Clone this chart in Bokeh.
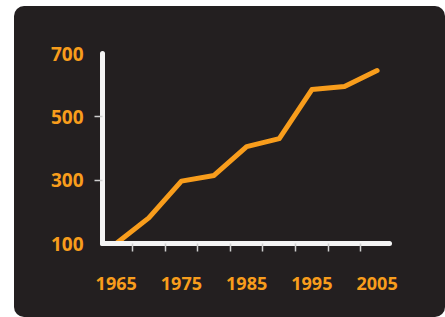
from bokeh.plotting import figure
from bokeh.models import FixedTicker, Range1d
from bokeh.embed import file_html
from bokeh.resources import INLINE

# ---- data ----
years = [1965, 1970, 1975, 1980, 1985, 1990, 1995, 2000, 2005]
values = [100, 181, 297, 315, 406, 431, 586, 596, 646]
x_label_years = [1965, 1975, 1985, 1995, 2005]
x_tick_marks = [1967.5, 1972.5, 1977.5, 1982.5, 1987.5, 1992.5, 1997.5, 2002.5]
y_label_values = [100, 300, 500, 700]
y_tick_marks = [300, 500]

BG = "#231F20"
ORANGE = "#F89D1C"
FONT = "Open Sans"

p = figure(width=431, height=311, output_backend="svg", toolbar_location=None,
           x_range=Range1d(1962.9, 2006.9), y_range=Range1d(100, 700),
           min_border_left=88, min_border_right=56, min_border_top=47, min_border_bottom=74,
           background_fill_color=None, border_fill_color=None,
           margin=(6, 0, 0, 14),
           styles={"background-color": BG, "border-radius": "10px", "overflow": "hidden"})

p.outline_line_color = None
p.xgrid.visible = False
p.ygrid.visible = False

p.line(years, values, line_color=ORANGE, line_width=5, line_join="round", line_cap="round")

for ax, ticks, minors in ((p.xaxis[0], x_label_years, x_tick_marks), (p.yaxis[0], y_label_values, y_tick_marks)):
    ax.ticker = FixedTicker(ticks=ticks, minor_ticks=minors)
    ax.axis_line_color = "#F4F4F4"
    ax.axis_line_width = 5
    ax.axis_line_cap = "round"
    ax.major_tick_line_color = None
    ax.major_tick_out = 0
    ax.major_tick_in = 0
    ax.minor_tick_line_color = "#CFCFCF"
    ax.minor_tick_line_width = 1.5
    ax.minor_tick_out = 8
    ax.minor_tick_in = 0
    ax.major_label_text_color = ORANGE
    ax.major_label_text_font = FONT
    ax.major_label_text_font_style = "bold"

p.xaxis[0].major_label_text_font_size = "18px"
p.yaxis[0].major_label_text_font_size = "19px"
p.xaxis[0].major_label_standoff = 25
p.yaxis[0].major_label_standoff = 11

open("out.html", "w").write(file_html(p, INLINE))
